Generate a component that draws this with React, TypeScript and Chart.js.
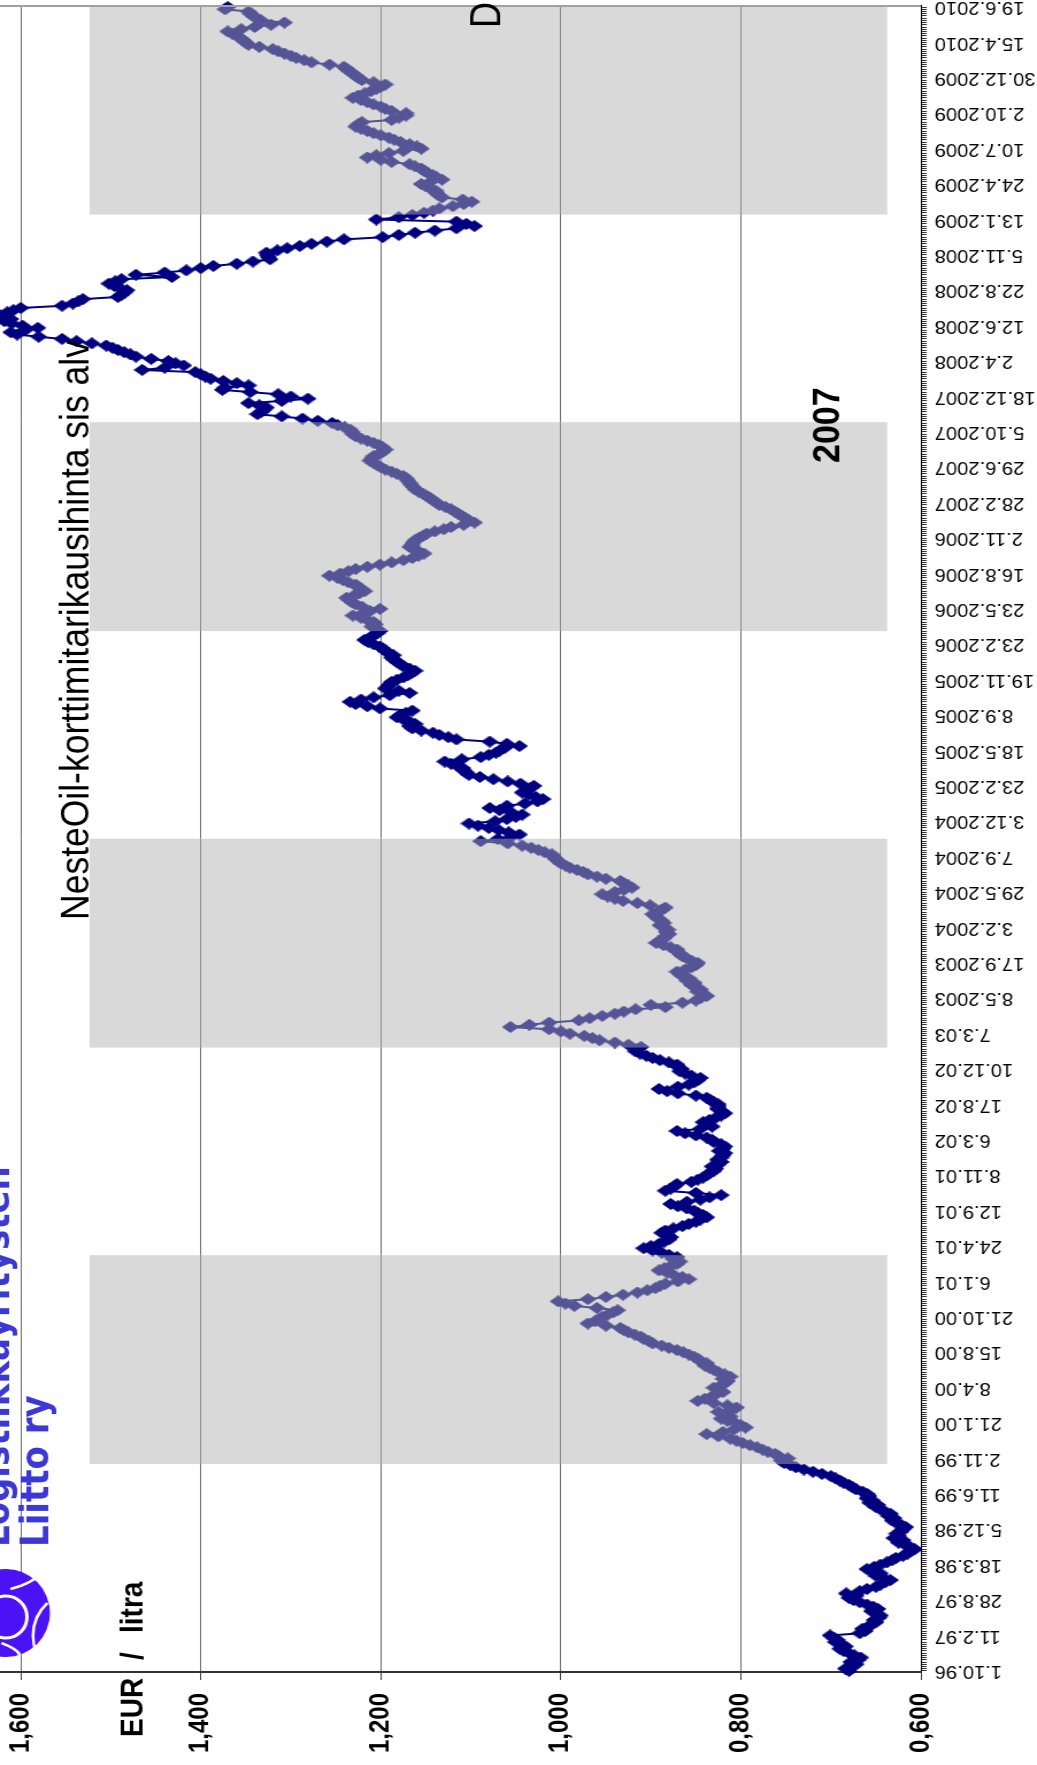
import React, { useEffect, useRef } from 'react'
import { Chart, registerables } from 'chart.js'

Chart.register(...registerables)

// The reference is a landscape Excel chart turned 90° counter-clockwise and
// stretched a little across the page. We draw it landscape and rotate the canvas.
const PAGE_W = 1037
const PAGE_H = 1765
const CANVAS_W = PAGE_H
const CANVAS_H = 902
const STRETCH = PAGE_W / CANVAS_H

const FONT = "'Liberation Sans', Arial, Helvetica, sans-serif"

// one label every 16 categories on the date axis
const LABEL_EVERY = 16
const TICK_DATES = [
  '1.10.96', '11.2.97', '28.8.97', '18.3.98', '5.12.98', '11.6.99', '2.11.99', '21.1.00',
  '8.4.00', '15.8.00', '21.10.00', '6.1.01', '24.4.01', '12.9.01', '8.11.01', '6.3.02',
  '17.8.02', '10.12.02', '7.3.03', '8.5.2003', '17.9.2003', '3.2.2004', '29.5.2004', '7.9.2004',
  '3.12.2004', '23.2.2005', '18.5.2005', '8.9.2005', '19.11.2005', '23.2.2006', '23.5.2006', '16.8.2006',
  '2.11.2006', '28.2.2007', '29.6.2007', '5.10.2007', '18.12.2007', '2.4.2008', '12.6.2008', '22.8.2008',
  '5.11.2008', '13.1.2009', '24.4.2009', '10.7.2009', '2.10.2009', '30.12.2009', '15.4.2010', '19.6.2010',
]

// EUR / litra, one value per category
const PRICE_1996_1999 = [
  0.680, 0.684, 0.676, 0.672, 0.678, 0.670, 0.667, 0.674, 0.680, 0.686, 0.690, 0.684, 0.688, 0.695, 0.693, 0.697,
  0.701, 0.668, 0.662, 0.665, 0.658, 0.655, 0.650, 0.652, 0.647, 0.645, 0.650, 0.655, 0.648, 0.653, 0.660, 0.668,
  0.675, 0.680, 0.672, 0.683, 0.668, 0.660, 0.650, 0.645, 0.640, 0.634, 0.642, 0.650, 0.645, 0.655, 0.660, 0.652,
  0.645, 0.638, 0.632, 0.628, 0.620, 0.615, 0.612, 0.607, 0.612, 0.618, 0.625, 0.620, 0.630, 0.625, 0.627, 0.622,
  0.620, 0.617, 0.622, 0.628, 0.632, 0.630, 0.636, 0.634, 0.640, 0.645, 0.650, 0.648, 0.657, 0.654, 0.660, 0.658,
  0.660, 0.665, 0.672, 0.676, 0.680, 0.686, 0.690, 0.695, 0.700, 0.710, 0.720, 0.730, 0.739, 0.745, 0.752, 0.755,
  0.748, 0.758, 0.762, 0.770, 0.776, 0.782, 0.790, 0.798, 0.805, 0.812, 0.825, 0.838, 0.820, 0.808, 0.795, 0.800,
  0.806, 0.815, 0.822, 0.812, 0.818, 0.825, 0.810, 0.805, 0.815, 0.830, 0.848, 0.840, 0.832, 0.828, 0.820, 0.825,
]
const PRICE_2000_2002 = [
  0.830, 0.822, 0.818, 0.815, 0.820, 0.812, 0.818, 0.825, 0.830, 0.835, 0.840, 0.838, 0.845, 0.848, 0.852, 0.858,
  0.864, 0.871, 0.880, 0.888, 0.898, 0.902, 0.908, 0.911, 0.918, 0.925, 0.930, 0.934, 0.950, 0.970, 0.962, 0.958,
  0.954, 0.948, 0.942, 0.937, 0.960, 0.985, 0.995, 1.003, 0.970, 0.950, 0.931, 0.915, 0.904, 0.895, 0.890, 0.884,
  0.870, 0.858, 0.865, 0.875, 0.882, 0.891, 0.885, 0.878, 0.871, 0.868, 0.875, 0.871, 0.880, 0.888, 0.898, 0.908,
  0.900, 0.891, 0.885, 0.880, 0.878, 0.882, 0.888, 0.884, 0.875, 0.865, 0.858, 0.850, 0.845, 0.838, 0.842, 0.848,
  0.852, 0.860, 0.870, 0.878, 0.860, 0.845, 0.835, 0.822, 0.850, 0.884, 0.878, 0.874, 0.871, 0.855, 0.848, 0.842,
  0.838, 0.835, 0.830, 0.828, 0.832, 0.825, 0.822, 0.826, 0.822, 0.820, 0.818, 0.824, 0.820, 0.818, 0.822, 0.830,
  0.832, 0.838, 0.850, 0.862, 0.871, 0.845, 0.832, 0.838, 0.842, 0.835, 0.828, 0.822, 0.818, 0.822, 0.826, 0.825,
]
const PRICE_2002_2005 = [
  0.825, 0.830, 0.834, 0.838, 0.850, 0.870, 0.882, 0.891, 0.870, 0.858, 0.852, 0.848, 0.845, 0.855, 0.862, 0.868,
  0.866, 0.870, 0.871, 0.880, 0.890, 0.898, 0.905, 0.912, 0.917, 0.915, 0.911, 0.925, 0.940, 0.957, 0.965, 0.974,
  0.990, 1.000, 1.013, 1.056, 1.035, 1.013, 0.980, 0.968, 0.954, 0.940, 0.930, 0.917, 0.884, 0.900, 0.865, 0.850,
  0.845, 0.838, 0.842, 0.848, 0.845, 0.850, 0.855, 0.852, 0.860, 0.858, 0.865, 0.868, 0.871, 0.862, 0.855, 0.850,
  0.848, 0.855, 0.860, 0.865, 0.868, 0.870, 0.871, 0.878, 0.886, 0.894, 0.890, 0.886, 0.884, 0.880, 0.883, 0.881,
  0.885, 0.890, 0.886, 0.888, 0.892, 0.895, 0.898, 0.892, 0.888, 0.884, 0.901, 0.915, 0.931, 0.940, 0.948, 0.954,
  0.940, 0.930, 0.921, 0.925, 0.930, 0.934, 0.950, 0.960, 0.970, 0.975, 0.982, 0.990, 0.995, 1.000, 1.003, 1.006,
  1.008, 1.010, 1.018, 1.025, 1.033, 1.043, 1.059, 1.089, 1.070, 1.055, 1.046, 1.058, 1.069, 1.080, 1.092, 1.102,
]
const PRICE_2005_2007 = [
  1.073, 1.060, 1.050, 1.043, 1.055, 1.068, 1.079, 1.060, 1.040, 1.026, 1.020, 1.028, 1.036, 1.043, 1.038, 1.034,
  1.030, 1.045, 1.059, 1.075, 1.090, 1.102, 1.105, 1.108, 1.109, 1.115, 1.122, 1.129, 1.110, 1.089, 1.080, 1.072,
  1.068, 1.063, 1.046, 1.060, 1.079, 1.116, 1.125, 1.135, 1.142, 1.155, 1.165, 1.168, 1.162, 1.168, 1.175, 1.182,
  1.178, 1.172, 1.165, 1.201, 1.215, 1.228, 1.234, 1.222, 1.208, 1.190, 1.168, 1.180, 1.195, 1.192, 1.190, 1.188,
  1.182, 1.175, 1.170, 1.166, 1.162, 1.168, 1.175, 1.178, 1.182, 1.185, 1.188, 1.186, 1.191, 1.195, 1.198, 1.201,
  1.208, 1.214, 1.218, 1.212, 1.208, 1.204, 1.201, 1.205, 1.210, 1.206, 1.208, 1.215, 1.222, 1.231, 1.220, 1.212,
  1.201, 1.221, 1.228, 1.232, 1.235, 1.238, 1.230, 1.224, 1.218, 1.222, 1.226, 1.228, 1.236, 1.242, 1.248, 1.257,
  1.245, 1.236, 1.228, 1.215, 1.201, 1.188, 1.175, 1.165, 1.158, 1.152, 1.158, 1.163, 1.168, 1.165, 1.164, 1.162,
]
const PRICE_2006_2008 = [
  1.158, 1.153, 1.149, 1.140, 1.130, 1.122, 1.108, 1.096, 1.102, 1.106, 1.110, 1.114, 1.118, 1.122, 1.128, 1.135,
  1.138, 1.142, 1.145, 1.149, 1.153, 1.158, 1.162, 1.164, 1.166, 1.168, 1.170, 1.172, 1.175, 1.182, 1.188, 1.195,
  1.200, 1.204, 1.208, 1.212, 1.210, 1.208, 1.202, 1.198, 1.195, 1.198, 1.202, 1.208, 1.215, 1.222, 1.228, 1.231,
  1.232, 1.234, 1.240, 1.248, 1.254, 1.270, 1.287, 1.310, 1.337, 1.333, 1.330, 1.327, 1.335, 1.347, 1.310, 1.281,
  1.300, 1.314, 1.345, 1.376, 1.373, 1.347, 1.360, 1.375, 1.389, 1.395, 1.400, 1.406, 1.465, 1.440, 1.419, 1.428,
  1.436, 1.455, 1.472, 1.478, 1.485, 1.492, 1.498, 1.505, 1.521, 1.538, 1.554, 1.580, 1.604, 1.611, 1.595, 1.581,
  1.598, 1.610, 1.618, 1.611, 1.620, 1.624, 1.615, 1.608, 1.600, 1.554, 1.542, 1.536, 1.531, 1.492, 1.488, 1.485,
  1.482, 1.490, 1.496, 1.502, 1.495, 1.488, 1.432, 1.472, 1.440, 1.416, 1.400, 1.386, 1.360, 1.342, 1.323, 1.325,
]
const PRICE_2008_2010 = [
  1.326, 1.327, 1.315, 1.304, 1.290, 1.277, 1.260, 1.241, 1.198, 1.180, 1.162, 1.140, 1.116, 1.096, 1.105, 1.116,
  1.205, 1.180, 1.165, 1.152, 1.142, 1.135, 1.120, 1.108, 1.099, 1.109, 1.132, 1.136, 1.138, 1.139, 1.145, 1.150,
  1.155, 1.145, 1.132, 1.138, 1.142, 1.148, 1.152, 1.155, 1.162, 1.168, 1.188, 1.200, 1.215, 1.205, 1.191, 1.175,
  1.155, 1.160, 1.168, 1.178, 1.185, 1.191, 1.200, 1.208, 1.215, 1.222, 1.228, 1.225, 1.221, 1.188, 1.180, 1.172,
  1.172, 1.188, 1.195, 1.200, 1.208, 1.215, 1.222, 1.231, 1.225, 1.218, 1.211, 1.205, 1.200, 1.195, 1.208, 1.221,
  1.225, 1.228, 1.231, 1.235, 1.238, 1.241, 1.257, 1.277, 1.285, 1.294, 1.300, 1.307, 1.314, 1.320, 1.335, 1.347,
  1.350, 1.353, 1.356, 1.360, 1.365, 1.370, 1.355, 1.340, 1.322, 1.307, 1.333, 1.338, 1.342, 1.345, 1.347, 1.373,
  1.370,
]

const PRICES = [
  ...PRICE_1996_1999, ...PRICE_2000_2002, ...PRICE_2002_2005,
  ...PRICE_2005_2007, ...PRICE_2006_2008, ...PRICE_2008_2010,
]

const CATEGORY_LABELS = PRICES.map((_, i) => (i % LABEL_EVERY === 0 ? TICK_DATES[i / LABEL_EVERY] ?? '' : ''))

// value axis
const VALUE_MIN = 0.6
const VALUE_MAX = 1.623
const VALUE_TICKS = [0.6, 0.8, 1.0, 1.2, 1.4, 1.6]

// alternating grey background periods (8 equal slices of the date axis)
const BAND_PERIODS = ['1996–99', '2000', '2001–02', '2003–04', '2005', '2006–07', '2008', '2009–10']
const BAND_SHADED = [false, true, false, true, false, true, false, true]
const BAND_RANGE = [0.638, 1.523]

const NAVY = '#000080'

// page coordinates -> landscape canvas coordinates
const cx = (pageY: number) => PAGE_H - pageY
const cy = (pageX: number) => pageX / STRETCH

// diamond marker, a bit taller than wide like the stretched original
function makeDiamond(w: number, h: number, color: string) {
  const c = document.createElement('canvas')
  c.width = w
  c.height = h
  const g = c.getContext('2d')
  if (g) {
    g.fillStyle = color
    g.beginPath()
    g.moveTo(w / 2, 0)
    g.lineTo(w, h / 2)
    g.lineTo(w / 2, h)
    g.lineTo(0, h / 2)
    g.closePath()
    g.fill()
  }
  return c
}

const pageAnnotations = {
  id: 'pageAnnotations',
  afterDatasetsDraw(chart: Chart) {
    const { ctx, chartArea } = chart
    ctx.save()

    // plot border at the far end of the date axis
    ctx.strokeStyle = '#a0a0a0'
    ctx.lineWidth = 2
    ctx.beginPath()
    ctx.moveTo(chartArea.right, 0)
    ctx.lineTo(chartArea.right, chartArea.bottom)
    ctx.stroke()

    ctx.textAlign = 'left'
    ctx.textBaseline = 'alphabetic'
    const text = (s: string, pageY: number, pageX: number, font: string, color = '#000') => {
      ctx.font = font
      ctx.fillStyle = color
      ctx.fillText(s, cx(pageY), cy(pageX))
    }

    text('DIESELIN HINTA  1.10.96 - tästä', 28, 500, `36px ${FONT}`)
    text('NesteOil-korttimitarikausihinta sis alv', 920, 89, `35.5px ${FONT}`)
    text('2007', 463, 839, `bold 34px ${FONT}`)
    text('EUR', 1737, 143, `bold 28px ${FONT}`)
    text('/', 1660, 143, `bold 28px ${FONT}`)
    text('litra', 1633, 143, `bold 28px ${FONT}`)

    const logoFont = "bold 34px 'DejaVu Sans', Verdana, sans-serif"
    text('Liitto ry', 1547, 48, logoFont, '#3b38d4')
    text('Logistiikkayritysten', 1547, 9, logoFont, '#3b38d4')

    // logo ball
    const lx = cx(1613)
    const ly = cy(6)
    ctx.fillStyle = '#4a12f4'
    ctx.beginPath()
    ctx.ellipse(lx, ly, 44, 44 / STRETCH, 0, 0, Math.PI * 2)
    ctx.fill()
    ctx.strokeStyle = '#ffffff'
    ctx.lineWidth = 3
    ctx.beginPath()
    ctx.ellipse(lx - 4, ly, 21, 21 / STRETCH, 0, 0, Math.PI * 2)
    ctx.stroke()
    ctx.lineWidth = 2.5
    ctx.beginPath()
    ctx.moveTo(lx - 40, ly + 26)
    ctx.quadraticCurveTo(lx - 10, ly + 18, lx + 10, ly + 36)
    ctx.moveTo(lx + 24, ly + 4)
    ctx.quadraticCurveTo(lx + 30, ly + 24, lx + 40, ly + 30)
    ctx.moveTo(lx - 30, ly - 4)
    ctx.quadraticCurveTo(lx - 36, ly + 10, lx - 42, ly + 12)
    ctx.stroke()

    ctx.restore()
  },
}

export default function App() {
  const canvasRef = useRef<HTMLCanvasElement>(null)

  useEffect(() => {
    const canvas = canvasRef.current
    if (!canvas) return

    const marker = makeDiamond(12, 15, NAVY)

    const chart = new Chart(canvas, {
      type: 'line',
      data: {
        labels: CATEGORY_LABELS,
        datasets: [
          {
            type: 'line',
            label: 'NesteOil-korttimitarikausihinta sis alv',
            data: PRICES,
            xAxisID: 'x',
            yAxisID: 'y',
            borderColor: NAVY,
            borderWidth: 2,
            pointStyle: marker,
            pointRadius: 7,
            pointBorderWidth: 0,
            pointBackgroundColor: NAVY,
            pointBorderColor: NAVY,
            tension: 0,
            order: 1,
          },
          {
            type: 'bar',
            label: 'jaksot',
            data: BAND_SHADED.map((s) => (s ? BAND_RANGE : null)) as any,
            xAxisID: 'xBand',
            yAxisID: 'y',
            backgroundColor: 'rgba(176,176,176,0.48)',
            borderWidth: 0,
            grouped: false,
            barPercentage: 1,
            categoryPercentage: 1,
            order: 0,
          },
        ],
      },
      options: {
        responsive: false,
        animation: false,
        layout: { autoPadding: false, padding: { top: 0, right: 6, bottom: 0, left: 0 } },
        plugins: {
          legend: { display: false },
          tooltip: { enabled: false },
        },
        scales: {
          x: {
            type: 'category',
            position: 'bottom',
            offset: true,
            grid: {
              drawOnChartArea: false,
              drawTicks: true,
              tickLength: 5,
              tickColor: '#333',
              offset: false,
            },
            border: { display: true, color: '#000', width: 1 },
            ticks: {
              autoSkip: false,
              minRotation: 90,
              maxRotation: 90,
              padding: 7,
              color: '#000',
              font: { family: FONT, size: 17.5 },
            },
            afterFit: (axis: any) => {
              axis.height = CANVAS_H - cy(921)
              axis.paddingLeft = 0
              axis.paddingRight = 0
            },
          },
          xBand: {
            type: 'category',
            labels: BAND_PERIODS,
            display: false,
            offset: true,
            grid: { display: false },
          },
          y: {
            type: 'linear',
            position: 'left',
            min: VALUE_MIN,
            max: VALUE_MAX,
            afterBuildTicks: (axis: any) => {
              axis.ticks = VALUE_TICKS.map((v) => ({ value: v }))
            },
            grid: {
              color: '#6e6e6e',
              lineWidth: 1,
              tickLength: 8,
              tickColor: '#404040',
            },
            border: { display: true, color: '#333', width: 2 },
            ticks: {
              padding: 13,
              color: '#000',
              font: { family: FONT, size: 24, weight: 'bold' },
              callback: (v: any) => Number(v).toFixed(3).replace('.', ','),
            },
            afterFit: (axis: any) => {
              axis.width = PAGE_H - 1672
              axis.paddingTop = 0
              axis.paddingBottom = 0
            },
          },
        },
      },
      plugins: [pageAnnotations],
    })

    return () => chart.destroy()
  }, [])

  return (
    <div
      style={{
        position: 'absolute',
        left: 0,
        top: 0,
        width: PAGE_W,
        height: PAGE_H,
        overflow: 'hidden',
        background: '#fff',
      }}
    >
      <canvas
        ref={canvasRef}
        width={CANVAS_W}
        height={CANVAS_H}
        style={{
          position: 'absolute',
          left: 0,
          top: 0,
          width: CANVAS_W,
          height: CANVAS_H,
          transformOrigin: '0 0',
          transform: `translate(0px, ${PAGE_H}px) rotate(-90deg) scale(1, ${STRETCH})`,
        }}
      />
    </div>
  )
}
